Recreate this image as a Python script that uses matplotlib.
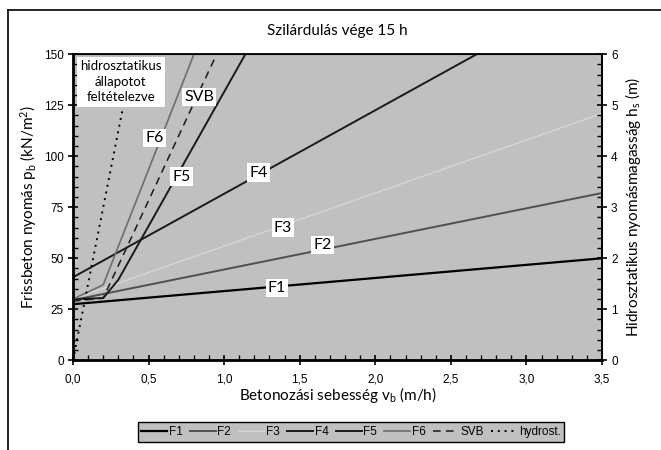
import matplotlib
matplotlib.use("Agg")
import matplotlib.pyplot as plt
from matplotlib.ticker import MultipleLocator, FuncFormatter
from matplotlib.lines import Line2D

# ---- data ----
f1_v = [0.0, 3.5];              f1_p = [27.5, 50.0]
f2_v = [0.0, 3.5];              f2_p = [29.5, 82.0]
f3_v = [0.0, 3.5];              f3_p = [30.0, 121.0]
f4_v = [0.0, 2.67];             f4_p = [40.7, 150.0]
f5_v = [0.0, 0.2, 0.3, 1.14];   f5_p = [30.0, 30.5, 39.5, 150.0]
f6_v = [0.0, 0.2, 0.8];         f6_p = [30.0, 37.0, 150.0]
svb_v = [0.0, 0.2, 0.95];       svb_p = [29.0, 30.5, 150.0]
hyd_v = [0.0, 0.4];             hyd_p = [0.0, 150.0]

labels = ["F1", "F2", "F3", "F4", "F5", "F6", "SVB", "hydrost."]
box_labels = ["F1", "F2", "F3", "F4", "F5", "F6", "SVB"]
box_v = [1.35, 1.65, 1.39, 1.23, 0.72, 0.54, 0.835]
box_p = [35.5, 56.5, 65.0, 92.0, 90.0, 109.0, 129.0]
hyd_text = "hidrosztatikus\nállapotot\nfeltételezve"
hyd_text_pos = (0.317, 136.5)
title = "Szilárdulás vége 15 h"

TXT = "Lato"
NUM = "Liberation Sans"
plt.rcParams["mathtext.fontset"] = "custom"
plt.rcParams["mathtext.rm"] = TXT
plt.rcParams["mathtext.it"] = TXT + ":italic"

fig = plt.figure(figsize=(6.61, 4.5), dpi=100)
ax = fig.add_axes([73/661, 1-360.3/450, (602-73)/661, (360.3-54.3)/450])
ax.set_facecolor("#c0c0c0")

series = [
    (f1_v, f1_p, dict(color="#000000", lw=1.6, ls="-")),
    (f2_v, f2_p, dict(color="#505050", lw=1.4, ls="-")),
    (f3_v, f3_p, dict(color="#d6d6d6", lw=1.0, ls="-")),
    (f4_v, f4_p, dict(color="#1a1a1a", lw=1.4, ls="-")),
    (f5_v, f5_p, dict(color="#1a1a1a", lw=1.4, ls="-")),
    (f6_v, f6_p, dict(color="#6e6e6e", lw=1.2, ls="-")),
    (svb_v, svb_p, dict(color="#1a1a1a", lw=1.1, ls=(0, (5, 3.5)))),
    (hyd_v, hyd_p, dict(color="#000000", lw=1.4, ls=(0, (1, 2.5)))),
]
handles = []
for (v, p, st), lab in zip(series, labels):
    ln, = ax.plot(v, p, label=lab, zorder=2, **st)
    handles.append(ln)

ax.set_xlim(0, 3.5)
ax.set_ylim(0, 150)
ax.xaxis.set_major_locator(MultipleLocator(0.5))
ax.xaxis.set_minor_locator(MultipleLocator(0.1))
ax.yaxis.set_major_locator(MultipleLocator(25))
ax.yaxis.set_minor_locator(MultipleLocator(5))
ax.xaxis.set_major_formatter(FuncFormatter(lambda x, pos: f"{x:.1f}".replace(".", ",")))
ax.tick_params(which="major", direction="inout", length=7, width=1.2, labelsize=8.5, pad=3)
ax.tick_params(which="minor", direction="in", length=3.5, width=1.0)
for lab in ax.get_xticklabels() + ax.get_yticklabels():
    lab.set_fontfamily(NUM)
ax.tick_params(axis="x", pad=6)

for s in ["left", "bottom"]:
    ax.spines[s].set_linewidth(2.0)
for s in ["right", "top"]:
    ax.spines[s].set_linewidth(1.3)

ax.set_xlabel("Betonozási sebesség v$_\\mathregular{b}$ (m/h)", fontsize=11, family=TXT, labelpad=0)
ax.set_ylabel("Frissbeton nyomás p$_\\mathregular{b}$ (kN/m$^\\mathregular{2}$)", fontsize=11, family=TXT, labelpad=4)

ax2 = ax.twinx()
ax2.set_ylim(0, 6)
ax2.yaxis.set_major_locator(MultipleLocator(1))
ax2.yaxis.set_minor_locator(MultipleLocator(0.2))
ax2.tick_params(which="major", direction="inout", length=7, width=1.2, labelsize=8.5, pad=3)
ax2.tick_params(which="minor", direction="in", length=3.5, width=1.0)
for lab in ax2.get_yticklabels():
    lab.set_fontfamily(NUM)
ax2.spines["right"].set_linewidth(1.3)
ax2.set_ylabel("Hidrosztatikus nyomásmagasság h$_\\mathregular{s}$ (m)", fontsize=11, family=TXT, labelpad=4)

for t, v, p in zip(box_labels, box_v, box_p):
    ax.text(v, p, t, fontsize=11.5, family=TXT, ha="center", va="center", zorder=5,
            bbox=dict(facecolor="white", edgecolor="none", pad=1.6))
ax.text(*hyd_text_pos, hyd_text, fontsize=9.5, family=TXT, ha="center", va="center",
        linespacing=1.35, zorder=5, bbox=dict(facecolor="white", edgecolor="none", pad=2.5))

fig.text(337/661, 1-31/450, title, fontsize=11, family=TXT, ha="center", va="center")

leg = fig.legend(handles=handles, loc="center", bbox_to_anchor=(351/661, 1-432/450),
                 ncol=8, frameon=True, fancybox=False, edgecolor="black", facecolor="#c0c0c0",
                 framealpha=1, prop={"family": NUM, "size": 8.5}, handlelength=2.2,
                 handletextpad=0.15, columnspacing=0.6, borderpad=0.3, borderaxespad=0)
leg.get_frame().set_linewidth(1.0)

fig.add_artist(Line2D([8/661, 8/661], [0, 1-10/450], color="black", lw=1.2, transform=fig.transFigure))
fig.add_artist(Line2D([8/661, 1], [1-10/450, 1-10/450], color="black", lw=1.2, transform=fig.transFigure))

fig.savefig("out.png", dpi=100)
